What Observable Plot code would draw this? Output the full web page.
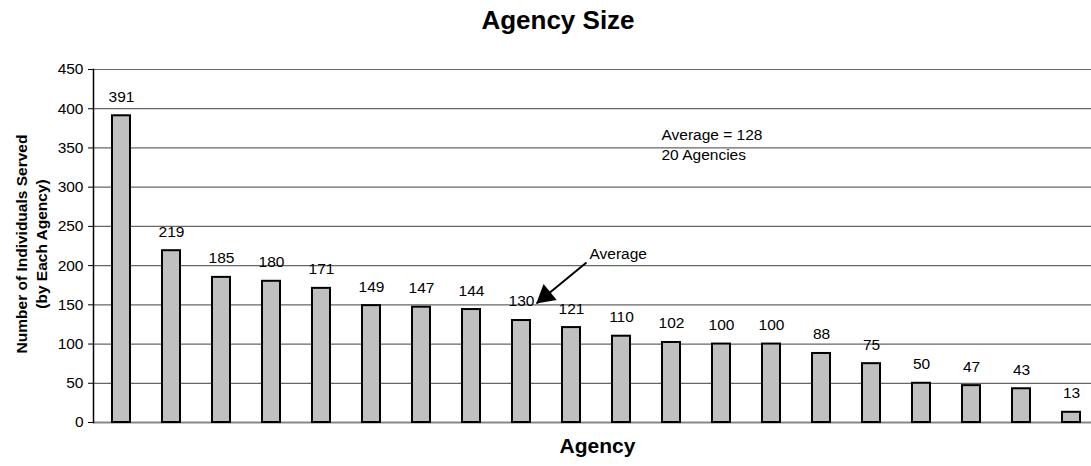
<!DOCTYPE html>
<html>
<head>
<meta charset="utf-8">
<script src="https://cdn.jsdelivr.net/npm/d3@7"></script>
<script src="https://cdn.jsdelivr.net/npm/@observablehq/plot@0.6"></script>
<style>
  body { margin: 0; background: #fff; font-family: "Liberation Sans", Arial, sans-serif; }
  #title { height: 40px; line-height: 40px; font-size: 26px; font-weight: bold; text-align: center; width: 1091px; padding-left: 25px; box-sizing: border-box; }
</style>
</head>
<body>
<div id="title">Agency Size</div>
<div id="chart"></div>
<script>
// Individuals served by each agency, sorted largest to smallest
const agencies = d3.range(1, 21).map(String);
const served = [391, 219, 185, 180, 171, 149, 147, 144, 130, 121, 110, 102, 100, 100, 88, 75, 50, 47, 43, 13];
const yTicks = [0, 50, 100, 150, 200, 250, 300, 350, 400, 450];
const averageValue = 128;
const agencyCount = 20;

const data = agencies.map((a, i) => ({agency: a, value: served[i]}));
const font = "Liberation Sans, Arial, sans-serif";

const chart = Plot.plot({
  width: 1091,
  height: 426,
  marginTop: 29,
  marginBottom: 44,
  marginLeft: 93,
  marginRight: 0,
  style: {fontFamily: font, fontSize: "15.5px", color: "#000", background: "#fff", overflow: "visible"},
  // the category band runs slightly past the right edge of the page
  x: {domain: agencies, range: [93, 1098], paddingInner: 0.64, paddingOuter: 0.32, axis: null},
  y: {domain: [0, 450], axis: null},
  marks: [
    Plot.gridY(yTicks.slice(1), {stroke: "#666", strokeOpacity: 1, strokeWidth: 1.2}),
    Plot.axisY({ticks: yTicks, tickSize: 5, tickPadding: 5, fontSize: 15.5, label: null, stroke: "#000"}),
    Plot.ruleY([0], {stroke: "#888", strokeWidth: 2}),
    Plot.frame({anchor: "left", stroke: "#000", strokeWidth: 1.5}),
    Plot.barY(data, {x: "agency", y: "value", fill: "#c0c0c0", stroke: "#000", strokeWidth: 2}),
    Plot.text(data, {x: "agency", y: "value", text: d => String(d.value), dy: -19, fontSize: 15.5, fill: "#000"}),
    // summary note
    Plot.text([`Average = ${averageValue}`], {x: () => "12", y: () => 366, text: d => d, textAnchor: "start", dx: -10, fontSize: 15.5}),
    Plot.text([`${agencyCount} Agencies`], {x: () => "12", y: () => 340.5, text: d => d, textAnchor: "start", dx: -10, fontSize: 15.5}),
    // arrow pointing at the bar closest to the average
    Plot.link([{x1: "10", y1: 204, x2: "9", y2: 151.7}], {x1: "x1", y1: "y1", x2: "x2", y2: "y2", dx: 15, stroke: "#000", strokeWidth: 2}),
    Plot.dot([{x: "9", y: 161.4}], {x: "x", y: "y", dx: 24, symbol: "triangle", r: 7.7, rotate: -129.4, fill: "#000", stroke: "none"}),
    Plot.text(["Average"], {x: () => "10", y: () => 214.2, text: d => d, textAnchor: "start", dx: 18, fontSize: 15.5}),
    // axis titles
    Plot.text(["Number of Individuals Served\n(by Each Agency)"], {frameAnchor: "left", textAnchor: "middle", text: d => d, rotate: -90, dx: -63, dy: -2, fontWeight: "bold", fontSize: 15.5, lineHeight: 1.29}),
    Plot.text(["Agency"], {frameAnchor: "bottom", text: d => d, dx: 5, dy: 30, fontWeight: "bold", fontSize: 21})
  ]
});
document.getElementById("chart").appendChild(chart);
</script>
</body>
</html>
